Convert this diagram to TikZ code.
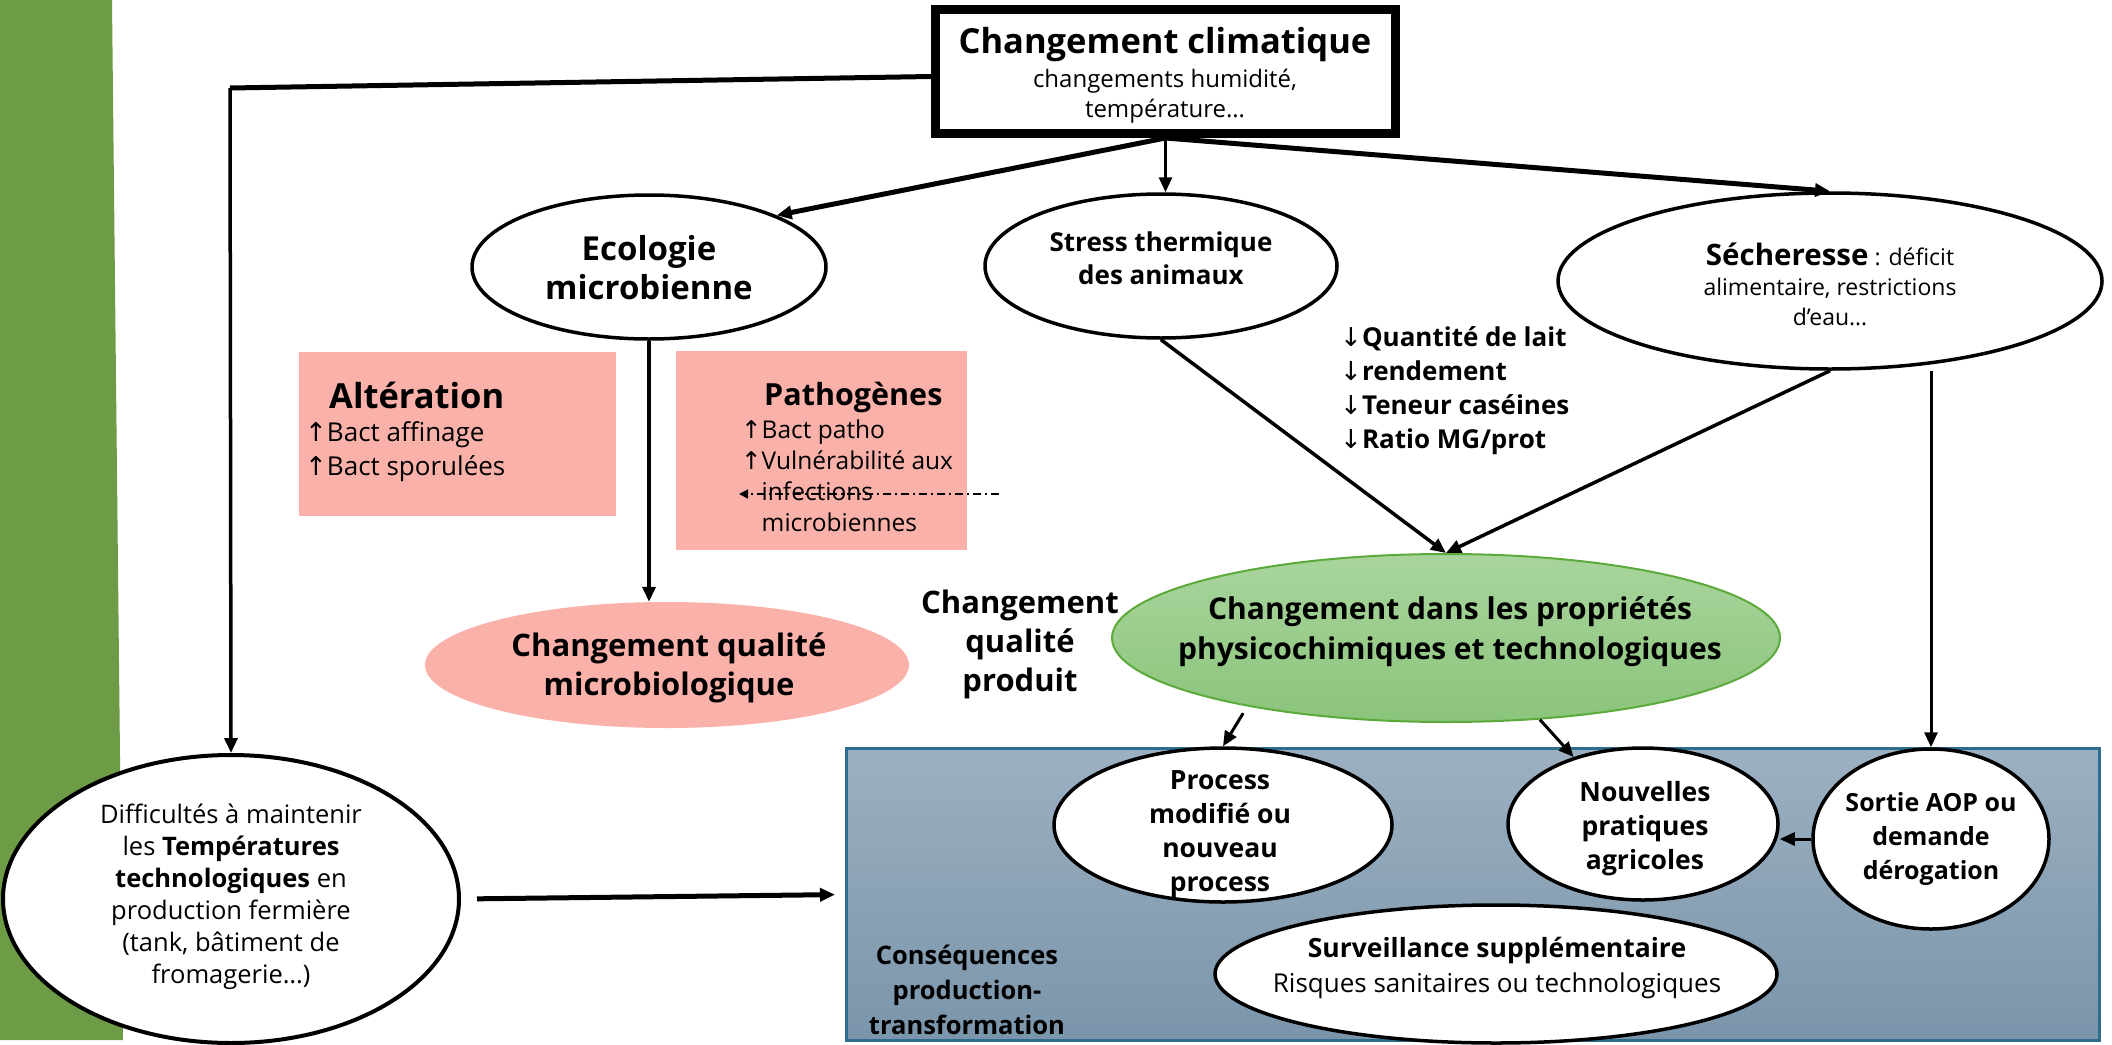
\documentclass[tikz,border=0pt]{standalone}
\usepackage{fontspec}
\setmainfont{Open Sans}
\newfontfamily\arrowfont{DejaVu Sans}
\usetikzlibrary{shapes.geometric,arrows.meta,calc}

\definecolor{barGreen}{HTML}{6E9B45}
\definecolor{pinkFill}{HTML}{F9B1A9}
\definecolor{ovalTop}{HTML}{A9D59D}
\definecolor{ovalBot}{HTML}{8BC47B}
\definecolor{ovalLine}{HTML}{5BAA3B}
\definecolor{boxTop}{HTML}{9CB0C1}
\definecolor{boxBot}{HTML}{7A95AB}
\definecolor{boxLine}{HTML}{2F6D8F}

\newcommand\fs[2]{\fontsize{#1}{#2}\selectfont}
\newcommand\upmark{{\arrowfont\mdseries ↑}}
\newcommand\dnmark{{\arrowfont\mdseries ↓}}

\tikzset{
  oval/.style={ellipse, draw, line width=3.5pt, fill=white, inner sep=0pt},
  lbl/.style={align=center, inner sep=0pt},
  link/.style={line width=3.5pt, -{Triangle[length=15pt,width=13pt]}},
}

\begin{document}
\begin{tikzpicture}[x=1pt,y=-1pt]
\useasboundingbox (0,0) rectangle (2112,1044);
\fill[white] (0,0) rectangle (2112,1044);

% left band
\fill[barGreen] (0,0) -- (112,0) -- (123,1040) -- (0,1040) -- cycle;

% consequences panel
\node[draw=boxLine, line width=3pt, top color=boxTop, bottom color=boxBot,
      minimum width=1253pt, minimum height=292pt, inner sep=0pt] (box) at (1473,894.5) {};
\node[lbl, font={\bfseries\fs{25.5}{35}}] (boxT) at (967,990) {Conséquences\\production-\\transformation};

% top box
\node[draw, line width=9pt, fill=white, minimum width=460pt, minimum height=124pt, inner sep=0pt] (cc) at (1165.5,71.5) {};
\node[anchor=base, inner sep=0pt, font={\bfseries\fs{34.5}{40}}] (ccT) at (1165,53) {Changement climatique};
\node[lbl, font={\fs{24}{30}}] (ccS) at (1165,96) {changements humidité,\\température…};

% second row
\node[oval, minimum width=354pt, minimum height=144pt] (eco) at (649,267) {};
\node[lbl, font={\bfseries\fs{33}{39}}] (ecoT) at (649,268) {Ecologie\\microbienne};

\node[oval, minimum width=352pt, minimum height=144pt] (stress) at (1161,266) {};
\node[lbl, font={\bfseries\fs{26}{33}}] (stressT) at (1161,258) {Stress thermique\\des animaux};

\node[oval, minimum width=544pt, minimum height=176pt] (sech) at (1830,281) {};
\node[lbl, font={\fs{23}{30}}] (sechT) at (1830,284) {{\bfseries\fs{29.5}{30}Sécheresse} : déficit\\alimentaire, restrictions\\d’eau…};

% pink boxes
\node[fill=pinkFill, minimum width=317pt, minimum height=164pt, inner sep=0pt] (alt) at (457.5,434) {};
\node[anchor=base west, inner sep=0pt, font={\bfseries\fs{34.5}{36}}] (altT) at (329,408) {Altération};
\node[anchor=west, align=left, inner sep=0pt, font={\fs{26}{34}}] (altL) at (305,452) {\upmark Bact affinage\\\upmark Bact sporulées};

\node[fill=pinkFill, minimum width=291pt, minimum height=199pt, inner sep=0pt] (path) at (821.5,450.5) {};
\node[anchor=base west, inner sep=0pt, font={\bfseries\fs{30.5}{34}}] (pathT) at (764,405) {Pathogènes};
\node[anchor=west, align=left, inner sep=0pt, font={\fs{24.5}{31}}] (pathL) at (741,476) {\upmark Bact patho\\\upmark Vulnérabilité aux\\\phantom{\upmark}infections\\\phantom{\upmark}microbiennes};

\coordinate (ddR) at (999,494);
\coordinate (ddL) at (739,494);
\draw[line width=1.5pt, dash pattern=on 8pt off 4pt on 2pt off 4pt, -{Triangle[length=9pt,width=9pt]}] (ddR) -- (ddL);

% milk effects
\node[anchor=west, align=left, inner sep=0pt, font={\bfseries\fs{26}{34}}] (qty) at (1340,391) {\dnmark Quantité de lait\\\dnmark rendement\\\dnmark Teneur caséines\\\dnmark Ratio MG/prot};

% quality row
\node[ellipse, fill=pinkFill, minimum width=484pt, minimum height=126pt, inner sep=0pt] (cqm) at (667,665) {};
\node[lbl, font={\bfseries\fs{31}{39}}] (cqmT) at (669,668) {Changement qualité\\microbiologique};

\node[lbl, font={\bfseries\fs{31}{39}}] (cqp) at (1020,644) {Changement\\qualité\\produit};

\node[ellipse, draw=ovalLine, line width=2pt, top color=ovalTop, bottom color=ovalBot,
      minimum width=668pt, minimum height=168pt, inner sep=0pt] (green) at (1446,638) {};
\node[lbl, font={\bfseries\fs{30}{40}}] (greenT) at (1450,632) {Changement dans les propriétés\\physicochimiques et technologiques};

% farm temperatures
\node[oval, line width=4pt, minimum width=456pt, minimum height=288pt] (diff) at (231,899) {};
\node[lbl, font={\fs{25.5}{32}}] (diffT) at (231,897) {Difficultés à maintenir\\les \textbf{Températures}\\\textbf{technologiques} en\\production fermière\\(tank, bâtiment de\\fromagerie…)};

% consequences
\node[oval, minimum width=338pt, minimum height=154pt] (process) at (1223,825) {};
\node[lbl, font={\bfseries\fs{26.5}{34}}] (processT) at (1220,834) {Process\\modifié ou\\nouveau\\process};

\node[oval, minimum width=270pt, minimum height=152pt] (nouv) at (1643,824) {};
\node[lbl, font={\bfseries\fs{26.5}{34}}] (nouvT) at (1645,829) {Nouvelles\\pratiques\\agricoles};

\node[oval, minimum width=236pt, minimum height=180pt] (sortie) at (1931,839) {};
\node[lbl, font={\bfseries\fs{25}{34}}] (sortieT) at (1931,839) {Sortie AOP ou\\demande\\dérogation};

\node[oval, minimum width=562pt, minimum height=138pt] (surv) at (1496,974) {};
\node[lbl, font={\fs{26}{35}}] (survT) at (1497,968) {{\bfseries\fs{26.5}{35}Surveillance supplémentaire}\\Risques sanitaires ou technologiques};

% connectors
\coordinate (bend) at (230,88);
\draw[line width=5pt] ($(cc.west)+(0,5)$) -- (bend);
\draw[link] (bend) -- (diff.north);
\draw[link, line width=5pt] (cc.south) -- (eco.22);
\draw[link, line width=3pt] (cc.south) -- (cc.south |- stress.north);
\draw[link, line width=5pt] (cc.south) -- (sech.north);
\draw[link] (eco.south) -- (eco.south |- cqm.north);
\draw[link] (stress.south) -- (green.north);
\draw[link] (sech.south) -- (green.north);
\draw[link, line width=3pt] (sortie.north |- sech.south) -- (sortie.north);
\draw[link, line width=3pt, shorten <=8pt] (green.199) -- (process.north);
\draw[link, line width=3pt] (green.-41) -- (nouv.136);
\draw[link, line width=3pt] (sortie.west) -- (sortie.west -| nouv.east);
\draw[link, line width=5pt, shorten <=16pt, shorten >=10pt] (diff.east) -- (box.west);
\end{tikzpicture}
\end{document}
